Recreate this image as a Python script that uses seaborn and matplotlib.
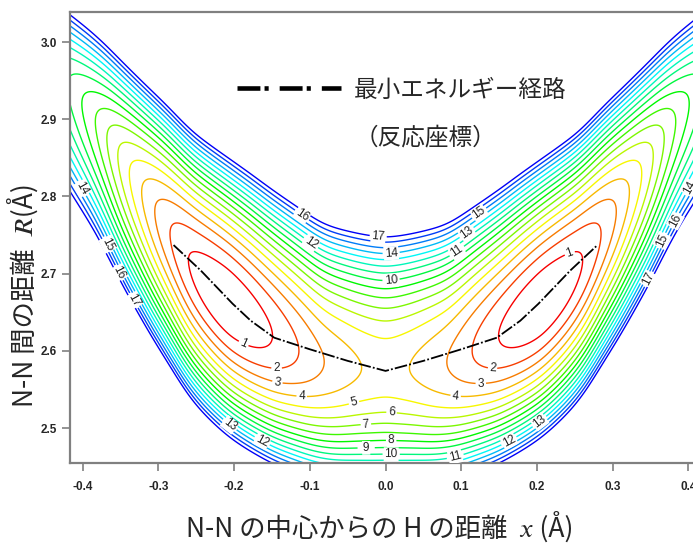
import numpy as np
import matplotlib
matplotlib.use("Agg")
import matplotlib.pyplot as plt
import seaborn as sns
from matplotlib.colors import hsv_to_rgb
from matplotlib.lines import Line2D

# ---------------- data ----------------
# valley floor (vertical-minimum line) : |x| (Å) -> R (Å)
floor_absx_R = [0.0, 0.034, 0.083, 0.114, 0.148, 0.207, 0.263, 0.285, 0.306,
                0.322, 0.339, 0.354, 0.368, 0.382, 0.401, 0.43]
floor_R = [2.575, 2.578, 2.583, 2.600, 2.617, 2.660, 2.715, 2.756, 2.779,
           2.807, 2.830, 2.851, 2.877, 2.898, 2.920, 2.955]
# energy along the valley floor : |x| (Å) -> energy
floor_absx_E = [0.0, 0.034, 0.083, 0.114, 0.148, 0.180, 0.207, 0.235, 0.263,
                0.285, 0.306, 0.322, 0.339, 0.354, 0.368, 0.382, 0.401, 0.43]
floor_E = [4.4, 4.0, 3.0, 2.0, 1.0, 0.3, 0.0, 0.3, 1.0,
           2.0, 3.0, 4.0, 5.0, 6.0, 7.0, 8.0, 9.0, 10.5]
# stiffness of the valley walls above / below the floor
wall_absx_up = [0.0, 0.2, 0.3, 0.43]
wall_up = [430, 440, 590, 800]
wall_absx_down = [0.0, 0.09, 0.2, 0.33, 0.43]
wall_down = [500, 610, 590, 465, 400]

contour_levels = list(range(1, 18))

# minimum energy path (dash-dot line)
path_x = [-0.280, -0.244, -0.202, -0.178, -0.147, -0.100, -0.050, 0.000,
          0.050, 0.100, 0.147, 0.178, 0.202, 0.244, 0.280]
path_R = [2.737, 2.704, 2.661, 2.639, 2.617, 2.602, 2.587, 2.574,
          2.587, 2.602, 2.617, 2.639, 2.661, 2.704, 2.737]

# contour labels as printed in the picture
label_x = [-0.0097, 0.0075, 0.0075, -0.111, -0.100, 0.124, 0.108, 0.095,
           -0.111, -0.041, 0.092, 0.0075, -0.0256, 0.0075, -0.0256, 0.0075,
           0.092, 0.142, 0.126, 0.2435, -0.144, -0.144, -0.190, -0.206,
           -0.164, 0.164, 0.204, 0.347, 0.365, 0.382, 0.400, -0.4016,
           -0.366, -0.351, -0.333]
label_R = [2.748, 2.7255, 2.689, 2.775, 2.738, 2.778, 2.752, 2.728,
           2.536, 2.530, 2.536, 2.514, 2.500, 2.487, 2.476, 2.4685,
           2.4634, 2.571, 2.551, 2.726, 2.570, 2.553, 2.604, 2.504,
           2.4815, 2.4815, 2.5075, 2.693, 2.743, 2.769, 2.812, 2.810,
           2.7385, 2.7017, 2.665]
label_text = ["17", "14", "10", "16", "12", "15", "13", "11",
              "4", "5", "4", "6", "7", "8", "9", "10",
              "11", "2", "3", "1", "2", "3", "1", "13",
              "12", "12", "13", "17", "15", "16", "14", "14",
              "15", "16", "17"]

xtick_values = [-0.4, -0.3, -0.2, -0.1, 0.0, 0.1, 0.2, 0.3, 0.4]
xtick_labels = ["-0.4", "-0.3", "-0.2", "-0.1", "0.0", "0.1", "0.2", "0.3", "0.4"]
ytick_values = [2.5, 2.6, 2.7, 2.8, 2.9, 3.0]
ytick_labels = ["2.5", "2.6", "2.7", "2.8", "2.9", "3.0"]

legend_label = "最小エネルギー経路"
legend_sub = "（反応座標）"
xlabel_text = "N-N の中心からの H の距離  \U0001D465 (Å)"
ylabel_text = "N-N 間の距離  \U0001D445(Å)"

# ---------------- style ----------------
sns.set_style("ticks")
plt.rcParams['font.family'] = ['Noto Sans CJK JP', 'STIXGeneral', 'DejaVu Sans']

fig = plt.figure(figsize=(6.93, 5.45), dpi=100)
ax = fig.add_axes([70 / 693, 82 / 545, 630 / 693, 451 / 545])
xlim = (-0.4168, 0.4154)
ylim = (2.4547, 3.0389)

# ---------------- surface built from the read values ----------------
x_grid = np.linspace(xlim[0], xlim[1], 601)
R_grid = np.linspace(ylim[0], ylim[1], 501)
abs_x = np.abs(x_grid)
dx = x_grid[1] - x_grid[0]


def smooth(v, sigma_x):
    s = max(sigma_x / dx, 1.0)
    h = int(4 * s)
    k = np.exp(-0.5 * (np.arange(-h, h + 1) / s) ** 2)
    k /= k.sum()
    return np.convolve(np.pad(v, h, mode='reflect', reflect_type='odd'), k, mode='valid')


E_x = smooth(np.interp(abs_x, floor_absx_E, floor_E), 0.011)
R0_x = smooth(np.interp(abs_x, floor_absx_R, floor_R), 0.018)
K_up = smooth(np.interp(abs_x, wall_absx_up, wall_up), 0.06)
K_dn = smooth(np.interp(abs_x, wall_absx_down, wall_down), 0.06)
n = R_grid[:, None] - R0_x[None, :]
w = 1.0 / (1.0 + np.exp(-n / 0.02))
K = K_dn[None, :] + (K_up - K_dn)[None, :] * w
V = E_x[None, :] + K * n ** 2

line_colors = [hsv_to_rgb((h / 360.0, 1.0, 0.97)) for h in np.linspace(0, 240, len(contour_levels))]
cs = ax.contour(x_grid, R_grid, V, levels=contour_levels, colors=line_colors,
                linewidths=1.0)
ax.clabel(cs, inline=True, inline_spacing=2, fontsize=8.5,
          fmt=lambda v: f"{v:.0f}", manual=list(zip(label_x, label_R)))
for t, s in zip(cs.labelTexts, label_text):
    t.set_text(s)
    t.set_color('#222222')
    t.set_family(['Liberation Sans', 'DejaVu Sans'])
    t.set_bbox(dict(facecolor='white', edgecolor='none', pad=0.6))

# minimum energy path
sns.lineplot(x=path_x, y=path_R, sort=False, estimator=None, color='black',
             linewidth=1.3, linestyle=(0, (7, 1.2, 1, 1.2)), ax=ax)

handle = Line2D([], [], color='black', lw=3.3, linestyle=(0, (5, 0.9, 0.9, 2.4)))
leg = ax.legend([handle], [legend_label], loc='center left',
                bbox_to_anchor=(0.265, 0.827), frameon=False, fontsize=17,
                handlelength=4.4, handletextpad=0.55, borderpad=0,
                borderaxespad=0)
ax.text(0.5635, 0.7206, legend_sub, transform=ax.transAxes, ha='center',
        va='center', fontsize=17)

ax.set_xlim(*xlim)
ax.set_ylim(*ylim)
ax.set_xticks(xtick_values, xtick_labels)
ax.set_yticks(ytick_values, ytick_labels)
for lab in ax.get_xticklabels() + ax.get_yticklabels():
    lab.set_family(['Liberation Sans', 'DejaVu Sans'])
    lab.set_fontweight('bold')
    lab.set_fontsize(8.5)
ax.tick_params(axis='x', direction='out', length=6, width=1.2, color='#808080', pad=7)
ax.tick_params(axis='y', direction='out', length=6, width=1.2, color='#808080', pad=3.5)
for sp in ax.spines.values():
    sp.set_color('#808080')
    sp.set_linewidth(1.6)

ax.set_xlabel(xlabel_text, fontsize=19)
ax.set_ylabel(ylabel_text, fontsize=19)
ax.xaxis.label.set_verticalalignment('center')
ax.yaxis.label.set_verticalalignment('center')
ax.xaxis.set_label_coords(0.492, -0.143)
ax.yaxis.set_label_coords(-0.074, 0.372)

fig.savefig("out.png", dpi=100)
